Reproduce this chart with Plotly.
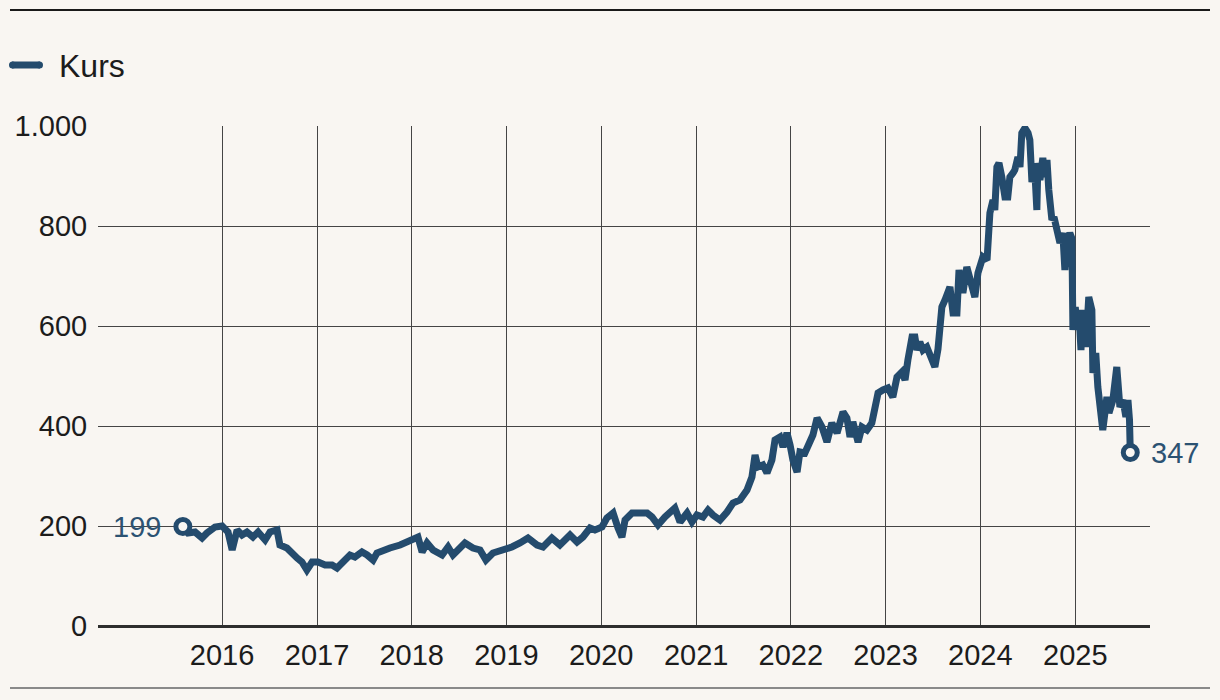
import plotly.graph_objects as go

# ---- data ----
dates = [
    "2015-08-03", "2015-08-23", "2015-09-19", "2015-10-16", "2015-11-04", "2015-12-05",
    "2016-01-01", "2016-01-24", "2016-02-09", "2016-02-28", "2016-03-18", "2016-04-06",
    "2016-04-29", "2016-05-19", "2016-06-15", "2016-07-04", "2016-07-31", "2016-08-11",
    "2016-09-07", "2016-09-27", "2016-10-16", "2016-11-04", "2016-11-23", "2016-12-13",
    "2017-01-05", "2017-02-01", "2017-02-28", "2017-03-19", "2017-04-11", "2017-05-08",
    "2017-05-27", "2017-06-23", "2017-07-13", "2017-08-05", "2017-08-20", "2017-09-12",
    "2017-10-09", "2017-11-17", "2017-12-25", "2018-01-25", "2018-02-10", "2018-03-01",
    "2018-03-24", "2018-04-28", "2018-05-21", "2018-06-09", "2018-07-25", "2018-08-25",
    "2018-09-21", "2018-10-14", "2018-11-10", "2018-12-19", "2019-01-22", "2019-02-22",
    "2019-03-25", "2019-04-29", "2019-05-22", "2019-06-25", "2019-07-26", "2019-09-03",
    "2019-09-30", "2019-10-23", "2019-11-19", "2019-12-08", "2020-01-04", "2020-01-23",
    "2020-02-16", "2020-03-06", "2020-03-21", "2020-04-02", "2020-04-29", "2020-05-30",
    "2020-06-26", "2020-07-15", "2020-08-07", "2020-09-03", "2020-10-11", "2020-10-31",
    "2020-11-27", "2020-12-16", "2021-01-04", "2021-01-27", "2021-02-16", "2021-03-07",
    "2021-04-03", "2021-04-30", "2021-05-23", "2021-06-19", "2021-07-16", "2021-08-04",
    "2021-08-16", "2021-08-27", "2021-09-15", "2021-10-01", "2021-10-20", "2021-11-01",
    "2021-11-20", "2021-12-02", "2021-12-17", "2021-12-29", "2022-01-09", "2022-01-25",
    "2022-02-05", "2022-02-24", "2022-03-16", "2022-03-27", "2022-04-12", "2022-05-01",
    "2022-05-20", "2022-06-08", "2022-06-28", "2022-07-21", "2022-08-05", "2022-08-17",
    "2022-08-28", "2022-09-17", "2022-10-02", "2022-10-21", "2022-11-09", "2022-11-21",
    "2022-12-03", "2022-12-22", "2023-01-10", "2023-01-29", "2023-02-14", "2023-03-05",
    "2023-03-17", "2023-03-28", "2023-04-13", "2023-04-24", "2023-05-02", "2023-05-13",
    "2023-05-25", "2023-06-09", "2023-06-29", "2023-07-10", "2023-07-22", "2023-08-06",
    "2023-08-18", "2023-09-06", "2023-09-18", "2023-10-03", "2023-10-11", "2023-10-26",
    "2023-11-10", "2023-11-30", "2023-12-11", "2023-12-23", "2024-01-11", "2024-01-27",
    "2024-01-30", "2024-02-07", "2024-02-19", "2024-02-26", "2024-03-05", "2024-03-13",
    "2024-03-24", "2024-04-05", "2024-04-16", "2024-04-24", "2024-05-06", "2024-05-13",
    "2024-05-25", "2024-06-02", "2024-06-09", "2024-06-21", "2024-07-03", "2024-07-10",
    "2024-07-18", "2024-07-29", "2024-08-06", "2024-08-10", "2024-08-18", "2024-08-29",
    "2024-09-06", "2024-09-14", "2024-09-21", "2024-10-03", "2024-10-11", "2024-10-22",
    "2024-11-03", "2024-11-14", "2024-11-22", "2024-11-30", "2024-12-11", "2024-12-19",
    "2024-12-23", "2025-01-01", "2025-01-08", "2025-01-15", "2025-01-23", "2025-01-30",
    "2025-02-11", "2025-02-22", "2025-03-06", "2025-03-10", "2025-03-21", "2025-03-29",
    "2025-04-10", "2025-04-17", "2025-05-03", "2025-05-11", "2025-05-26", "2025-06-03",
    "2025-06-10", "2025-06-22", "2025-07-04", "2025-07-15", "2025-07-23", "2025-07-29",
    "2025-08-01",
]
kurs = [
    199, 186, 188, 176, 186, 198,
    200, 188, 152, 192, 182, 188,
    178, 188, 172, 188, 192, 162,
    156, 148, 136, 128, 112, 128,
    128, 122, 122, 116, 128, 142,
    138, 148, 142, 132, 146, 152,
    156, 162, 172, 178, 148, 166,
    152, 142, 158, 142, 166, 156,
    152, 132, 146, 152, 158, 166,
    176, 162, 158, 176, 162, 182,
    168, 178, 196, 192, 198, 216,
    226, 196, 178, 212, 226, 226,
    226, 218, 202, 218, 236, 208,
    226, 208, 222, 218, 232, 222,
    212, 228, 246, 252, 272, 298,
    342, 318, 322, 306, 332, 372,
    378, 358, 386, 362, 332, 308,
    348, 346, 368, 382, 416, 398,
    368, 406, 386, 428, 416, 378,
    408, 368, 398, 392, 406, 432,
    466, 472, 476, 458, 498, 508,
    492, 532, 578, 578, 552, 568,
    552, 558, 532, 518, 554, 638,
    652, 678, 626, 626, 712, 666,
    718, 678, 658, 706, 738, 732,
    786, 826, 852, 832, 918, 926,
    898, 858, 858, 898, 906, 912,
    938, 918, 986, 996, 986, 972,
    888, 912, 832, 926, 892, 936,
    898, 932, 872, 812, 818, 786,
    766, 786, 712, 766, 786, 775,
    592, 638, 598, 632, 552, 632,
    558, 658, 632, 506, 546, 478,
    426, 392, 458, 426, 452, 478,
    518, 438, 452, 418, 452, 412,
    347,
]
year_ticks = ["2016-01-01", "2017-01-01", "2018-01-01", "2019-01-01", "2020-01-01",
              "2021-01-01", "2022-01-01", "2023-01-01", "2024-01-01", "2025-01-01"]
year_labels = ["2016", "2017", "2018", "2019", "2020", "2021", "2022", "2023", "2024", "2025"]
y_ticks = [0, 200, 400, 600, 800, 1000]
y_labels = ["0", "200", "400", "600", "800", "1.000"]
series_name = "Kurs"

# ---- style ----
BG = "#f9f6f2"
LINE = "#244b6d"
LABEL = "#2c5272"
GRID = "#454545"
TEXT = "#1c1c1c"
FONT = "Liberation Sans"

W, H = 1220, 700
L, R, T, B = 98, 70, 126, 74
PW, PH = W - L - R, H - T - B


def px_x(x):
    return (x - L) / PW


def px_y(y):
    return (H - B - y) / PH


fig = go.Figure()
fig.add_trace(go.Scatter(
    x=dates, y=kurs, mode="lines", name=series_name,
    line=dict(color=LINE, width=7),
    hoverinfo="x+y", showlegend=False,
))
fig.add_trace(go.Scatter(
    x=[dates[0], dates[-1]], y=[kurs[0], kurs[-1]], mode="markers",
    marker=dict(size=14, color=BG, line=dict(color=LINE, width=5)),
    showlegend=False, hoverinfo="skip", cliponaxis=False,
))

fig.add_annotation(x=dates[0], y=kurs[0], text=str(kurs[0]), showarrow=False,
                   xanchor="right", yanchor="middle", xshift=-20,
                   font=dict(family=FONT, size=29, color=LABEL))
fig.add_annotation(x=dates[-1], y=kurs[-1], text=str(kurs[-1]), showarrow=False,
                   xanchor="left", yanchor="middle", xshift=19,
                   font=dict(family=FONT, size=29, color=LABEL))

# legend (symbol + label)
fig.add_shape(type="line", xref="paper", yref="paper",
              x0=px_x(12), x1=px_x(40), y0=px_y(65), y1=px_y(65),
              line=dict(color=LINE, width=7))
fig.add_shape(type="circle", xref="paper", yref="paper",
              x0=px_x(9), x1=px_x(16), y0=px_y(61.5), y1=px_y(68.5),
              fillcolor=LINE, line=dict(width=0))
fig.add_shape(type="circle", xref="paper", yref="paper",
              x0=px_x(36), x1=px_x(43), y0=px_y(61.5), y1=px_y(68.5),
              fillcolor=LINE, line=dict(width=0))
fig.add_annotation(xref="paper", yref="paper", x=px_x(57), y=px_y(66),
                   text=series_name, showarrow=False, xanchor="left", yanchor="middle",
                   font=dict(family=FONT, size=32, color=TEXT))

# top and bottom rules
fig.add_shape(type="line", xref="paper", yref="paper",
              x0=px_x(10), x1=px_x(1210), y0=px_y(10), y1=px_y(10),
              line=dict(color="#1a1a1a", width=2))
fig.add_shape(type="line", xref="paper", yref="paper",
              x0=px_x(10), x1=px_x(1210), y0=px_y(688), y1=px_y(688),
              line=dict(color="#8a8a8a", width=2))

fig.update_layout(
    width=W, height=H,
    margin=dict(l=L, r=R, t=T, b=B, autoexpand=False),
    paper_bgcolor=BG, plot_bgcolor=BG,
    font=dict(family=FONT, size=29, color=TEXT),
    showlegend=False,
    hovermode="closest",
)
fig.update_xaxes(
    type="date", range=["2014-09-10", "2025-10-16"],
    tickvals=year_ticks, ticktext=year_labels,
    showgrid=True, gridcolor=GRID, gridwidth=1,
    ticks="outside", ticklen=3, tickcolor="rgba(0,0,0,0)",
    showline=False, zeroline=False, automargin=False,
    tickfont=dict(family=FONT, size=29, color=TEXT),
)
fig.update_yaxes(
    range=[0, 1000], tickvals=y_ticks, ticktext=y_labels,
    showgrid=True, gridcolor=GRID, gridwidth=1,
    zeroline=True, zerolinecolor="#2e2e2e", zerolinewidth=2.5,
    ticks="outside", ticklen=4, tickcolor="rgba(0,0,0,0)",
    showline=False, automargin=False,
    tickfont=dict(family=FONT, size=29, color=TEXT),
)

fig.write_html(
    "out.html",
    config={"displayModeBar": False},
    post_script=(
        "document.body.style.margin='0';"
        "document.body.style.overflow='hidden';"
        "document.body.style.background='" + BG + "';"
    ),
)
